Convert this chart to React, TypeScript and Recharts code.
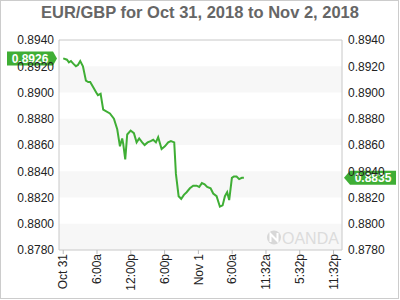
import React from 'react';
import {
  LineChart,
  Line,
  XAxis,
  YAxis,
  ReferenceArea,
  ReferenceDot,
} from 'recharts';

// hours after Oct 31 00:00 (axis spaced in 6h steps)
const hours = [
  0, 0.66, 1.01, 1.37, 1.78, 2.25, 2.61, 3.02, 3.5, 4.03, 4.44, 4.79, 5.33, 5.86,
  6.16, 6.64, 7.1, 8.29, 9.0, 9.59, 10.07, 10.47, 10.65, 11.01, 11.36, 11.97,
  12.55, 13.03, 13.49, 14.02, 14.45, 14.98, 15.52, 15.98, 16.46, 16.86, 17.47,
  18.05, 18.64, 19.12, 19.71, 20.01, 20.49, 20.95, 21.43, 21.91, 22.49, 23.08,
  23.68, 24.14, 24.62, 25.1, 25.56, 26.17, 26.63, 27.23, 27.82, 28.3, 28.71,
  29.11, 29.47, 29.95, 30.3, 30.78, 31.24, 31.72, 32.08,
];

const rates = [
  0.8926, 0.8925, 0.8923, 0.8924, 0.8922, 0.892, 0.8921, 0.8924, 0.892, 0.8909,
  0.8908, 0.8908, 0.8904, 0.89, 0.8898, 0.8899, 0.8887, 0.8884, 0.888, 0.8872,
  0.8859, 0.8865, 0.8861, 0.8849, 0.8868, 0.8871, 0.8869, 0.8862, 0.8865,
  0.8862, 0.886, 0.8862, 0.8863, 0.8864, 0.8862, 0.8866, 0.8857, 0.8859,
  0.8862, 0.8863, 0.8862, 0.8838, 0.8821, 0.8819, 0.8822, 0.8824, 0.8827,
  0.8829, 0.8829, 0.8828, 0.8831, 0.883, 0.8828, 0.8827, 0.8823, 0.8821,
  0.8813, 0.8814, 0.8821, 0.8824, 0.8818, 0.8835, 0.8836, 0.8836, 0.8834,
  0.8835, 0.8835,
];

const xTicks = [0, 6, 12, 18, 24, 30, 36, 42, 48];
const xTickLabels = ['Oct 31', '6:00a', '12:00p', '6:00p', 'Nov 1', '6:00a', '11:32a', '5:32p', '11:32p'];
const yTicks = [0.878, 0.88, 0.882, 0.884, 0.886, 0.888, 0.89, 0.892, 0.894];

const openRate = 0.8926;
const lastRate = 0.8835;

const X_DOMAIN: [number, number] = [-0.75, 49.5];
const Y_DOMAIN: [number, number] = [0.878, 0.894];
const GREEN = '#3fae35';
const FONT = '"Liberation Sans", Arial, sans-serif';

const chartData = hours.map((h, i) => ({ h, rate: rates[i] }));

function XTick({ x, y, payload }: any) {
  const idx = xTicks.indexOf(payload.value);
  return (
    <text
      x={x}
      y={y}
      dy="0.35em"
      transform={`rotate(-90, ${x}, ${y})`}
      textAnchor="end"
      fontSize={12}
      fontFamily={FONT}
      fill="#222"
    >
      {xTickLabels[idx]}
    </text>
  );
}

// price badge with arrow; side = which way the arrow points
function Badge({ cx, cy, value, side }: any) {
  const h = 14;
  const w = 46;
  const top = cy - h / 2;
  let points: string;
  let textX: number;
  if (side === 'right') {
    const tip = cx - 2;
    points = `${tip - 4},${top} ${tip},${cy} ${tip - 4},${top + h} ${tip - 4 - w},${top + h} ${tip - 4 - w},${top}`;
    textX = tip - 4 - w / 2;
  } else {
    const tip = cx + 2;
    points = `${tip},${cy} ${tip + 6},${top} ${tip + 6 + w},${top} ${tip + 6 + w},${top + h} ${tip + 6},${top + h}`;
    textX = tip + 6 + w / 2;
  }
  return (
    <g>
      <polygon points={points} fill={GREEN} />
      <text
        x={textX}
        y={cy}
        dy="0.36em"
        textAnchor="middle"
        fontSize={12}
        fontWeight="bold"
        fontFamily={FONT}
        fill="#fff"
      >
        {value.toFixed(4)}
      </text>
    </g>
  );
}

export default function App() {
  const bands = [];
  for (let i = 0; i + 1 < yTicks.length; i += 2) {
    bands.push([yTicks[i], yTicks[i + 1]]);
  }

  return (
    <div style={{ position: 'absolute', left: 0, top: 0, width: 400, height: 300, background: '#fff' }}>
      <div
        style={{
          position: 'absolute',
          left: 0,
          top: 0,
          width: 399,
          height: 299,
          boxSizing: 'border-box',
          border: '1px solid #cccccc',
        }}
      />
      <div
        style={{
          position: 'absolute',
          left: 0,
          top: 3,
          width: 400,
          textAlign: 'center',
          fontFamily: FONT,
          fontWeight: 'bold',
          fontSize: 16.5,
          color: '#666',
        }}
      >
        EUR/GBP for Oct 31, 2018 to Nov 2, 2018
      </div>
      <div style={{ position: 'absolute', left: 0, top: 0 }}>
        <LineChart
          width={400}
          height={300}
          data={chartData}
          margin={{ top: 40, right: 0, left: 0, bottom: 0 }}
        >
          <XAxis
            dataKey="h"
            type="number"
            domain={X_DOMAIN}
            ticks={xTicks}
            allowDataOverflow
            height={50}
            axisLine={false}
            tickLine={{ stroke: '#bbb' }}
            tickSize={4}
            tickMargin={0}
            interval={0}
            tick={<XTick />}
          />
          <YAxis
            yAxisId="left"
            orientation="left"
            domain={Y_DOMAIN}
            ticks={yTicks}
            allowDataOverflow
            width={59}
            axisLine={false}
            tickLine={false}
            tickSize={3}
            tickMargin={2}
            interval={0}
            tickFormatter={(v: number) => v.toFixed(4)}
            tick={{ fontSize: 12, fill: '#222', fontFamily: FONT }}
          />
          <YAxis
            yAxisId="right"
            orientation="right"
            domain={Y_DOMAIN}
            ticks={yTicks}
            allowDataOverflow
            width={58}
            axisLine={false}
            tickLine={false}
            tickSize={3}
            tickMargin={3}
            interval={0}
            tickFormatter={(v: number) => v.toFixed(4)}
            tick={{ fontSize: 12, fill: '#222', fontFamily: FONT, textAnchor: 'start' }}
          />
          {bands.map(([y1, y2]) => (
            <ReferenceArea
              key={y1}
              yAxisId="left"
              x1={X_DOMAIN[0]}
              x2={X_DOMAIN[1]}
              y1={y1}
              y2={y2}
              fill="#f7f7f7"
              fillOpacity={1}
              stroke="none"
            />
          ))}
          <ReferenceArea
            yAxisId="left"
            x1={X_DOMAIN[0]}
            x2={X_DOMAIN[1]}
            y1={Y_DOMAIN[0]}
            y2={Y_DOMAIN[1]}
            fill="none"
            stroke="#c8c8c8"
            strokeWidth={1}
          />
          <Line
            yAxisId="left"
            type="linear"
            dataKey="rate"
            stroke={GREEN}
            strokeWidth={2}
            dot={false}
            isAnimationActive={false}
          />
          <ReferenceDot
            yAxisId="left"
            x={X_DOMAIN[0]}
            y={openRate}
            ifOverflow="visible"
            shape={(p: any) => <Badge {...p} value={openRate} side="right" />}
          />
          <ReferenceDot
            yAxisId="right"
            x={X_DOMAIN[1]}
            y={lastRate}
            ifOverflow="visible"
            shape={(p: any) => <Badge {...p} value={lastRate} side="left" />}
          />
        </LineChart>
      </div>
      <svg
        width={400}
        height={300}
        style={{ position: 'absolute', left: 0, top: 0, pointerEvents: 'none' }}
      >
        <circle cx={274} cy={237.5} r={7} fill="#d8d8d8" />
        <path d="M270.5,242 L270.5,234 L277.5,241 L277.5,233" stroke="#fff" strokeWidth={2} fill="none" />
        <text x={282} y={243.5} fontSize={16} fontFamily={FONT} fill="#dcdcdc">
          OANDA
        </text>
      </svg>
    </div>
  );
}
